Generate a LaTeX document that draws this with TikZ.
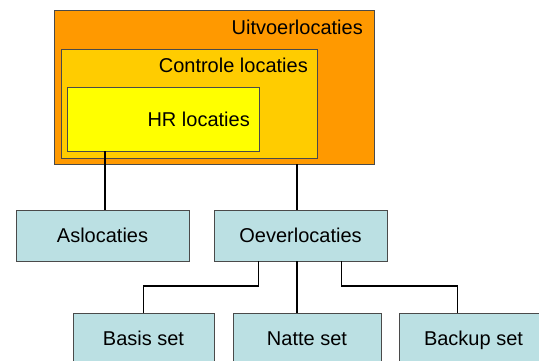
\documentclass[tikz,border=0pt]{standalone}
\usepackage{fontspec}
\setmainfont{Liberation Sans}
\definecolor{uitv}{HTML}{FF9900}
\definecolor{contr}{HTML}{FFCC00}
\definecolor{hrc}{HTML}{FFFF00}
\definecolor{boxblue}{HTML}{BBE0E3}
\definecolor{edge}{HTML}{4A4A4A}
\begin{document}
\begin{tikzpicture}[x=1pt,y=-1pt,
  frame/.style={draw=edge, line width=0.8pt, rectangle, inner sep=0pt},
  box/.style={frame, fill=boxblue, minimum height=51pt, font=\fontsize{20}{24}\selectfont, text height=14pt, text depth=0pt},
  lbl/.style={anchor=base east, inner sep=0pt, font=\fontsize{20}{24}\selectfont},
  conn/.style={draw=black, line width=1.6pt}]
\useasboundingbox (0,0) rectangle (539,360);
\clip (0,0) rectangle (539,360);
% nested boxes
\node[frame, fill=uitv, minimum width=320pt, minimum height=154pt] (outer) at (214,87) {};
\node[frame, fill=contr, minimum width=256pt, minimum height=109pt] (contr) at (189,103.5) {};
\node[frame, fill=hrc, minimum width=192pt, minimum height=64pt] (hr) at (163,119) {};
\node[lbl] (tuitv) at (363,34) {Uitvoerlocaties};
\node[lbl] (tcontr) at (308,72.5) {Controle locaties};
\node[lbl] (thr) at (250,126.5) {HR locaties};
% blue boxes
\node[box, minimum width=173pt] (asl) at (102.5,235.5) {Aslocaties};
\node[box, minimum width=173pt] (oev) at (300.5,235.5) {Oeverlocaties};
\node[box, minimum width=141pt, minimum height=50pt] (basis) at (143.5,338) {Basis set};
\node[box, minimum width=148pt, minimum height=50pt] (natte) at (307,338) {Natte set};
\node[box, minimum width=149pt, minimum height=50pt] (backup) at (473.5,338) {Backup set};
% connectors
\draw[conn] ([xshift=38.3pt]hr.south west) -- ([xshift=38.3pt]hr.south west |- asl.north);
\draw[conn] ([xshift=243.6pt]outer.south west) -- ([xshift=243.6pt]outer.south west |- oev.north);
\draw[conn] ([xshift=45pt]oev.south west) |- ([yshift=26.5pt]basis.north) -- (basis.north);
\draw[conn] ([xshift=83.4pt]oev.south west) -- ([xshift=83.4pt]oev.south west |- natte.north);
\draw[conn] ([xshift=128pt]oev.south west) |- ([xshift=59pt,yshift=26.5pt]backup.north west) -- ([xshift=59pt]backup.north west);
\end{tikzpicture}
\end{document}
